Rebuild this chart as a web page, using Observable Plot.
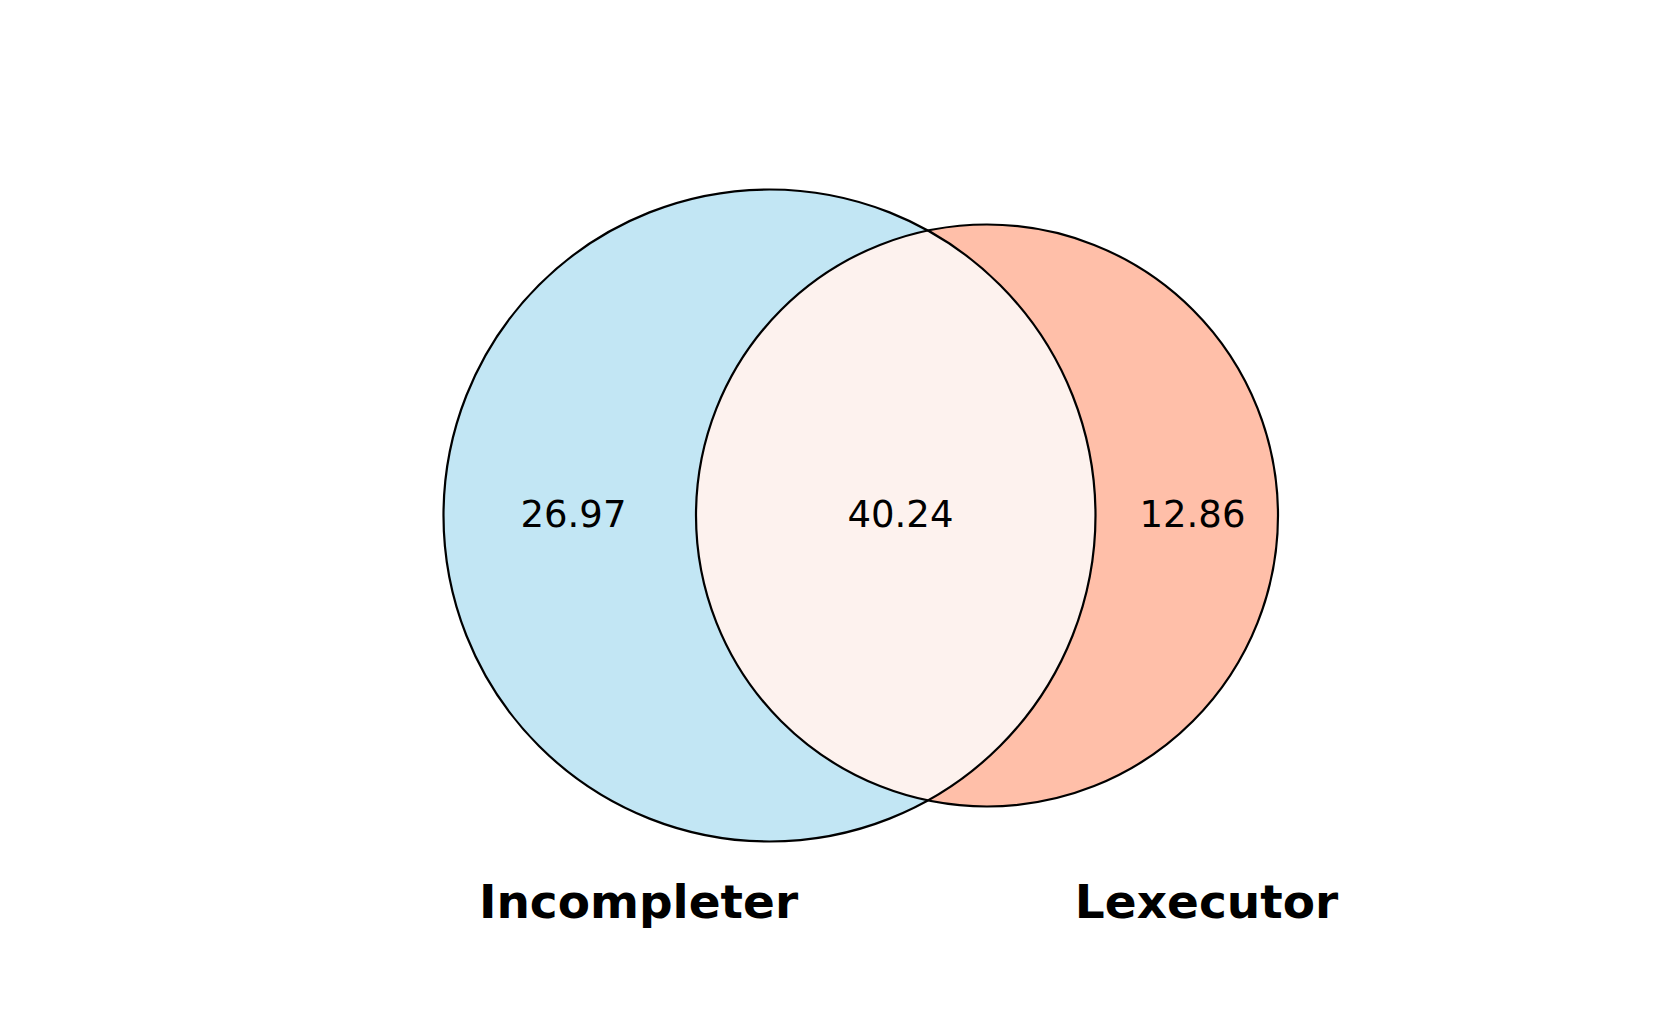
<!DOCTYPE html>
<html><head><meta charset="utf-8">
<script src="https://cdn.jsdelivr.net/npm/d3@7"></script>
<script src="https://cdn.jsdelivr.net/npm/@observablehq/plot@0.6"></script>
<style>body{margin:0;background:#fff}</style>
</head><body><div id="chart"></div>
<script>
const setNames = ["Incompleter", "Lexecutor"];
const regionValues = ["26.97", "40.24", "12.86"];
const circles = [
  {name: "Incompleter", cx: 769, cy: 515, r: 326, fill: "#c2e6f4"},
  {name: "Lexecutor", cx: 986.5, cy: 515, r: 291, fill: "#ffbfa9"}
];
const regionPos = [{x: 573, y: 515}, {x: 900, y: 515}, {x: 1192, y: 515}];
const labelPos = [{x: 638, y: 902}, {x: 1206, y: 902}];

// lens (intersection) outline from the two circles
const [A, B] = circles;
const d = B.cx - A.cx;
const a = (d*d + A.r*A.r - B.r*B.r) / (2*d);
const h = Math.sqrt(A.r*A.r - a*a);
const lens = [];
const tA = Math.atan2(h, a);
for (let i = 0; i <= 100; i++) { const t = -tA + 2*tA*i/100; lens.push({x: A.cx + A.r*Math.cos(t), y: A.cy + A.r*Math.sin(t)}); }
const tB = Math.atan2(h, a - d);
for (let i = 0; i <= 100; i++) { const t = tB + (2*Math.PI - 2*tB)*i/100; lens.push({x: B.cx + B.r*Math.cos(t), y: B.cy + B.r*Math.sin(t)}); }

const chart = Plot.plot({
  width: 1680, height: 1016, margin: 0,
  x: {domain: [0, 1680], range: [0, 1680], axis: null},
  y: {domain: [0, 1016], range: [0, 1016], axis: null},
  r: {type: "identity"},
  style: {fontFamily: "DejaVu Sans", background: "#fff"},
  marks: [
    Plot.dot(circles, {x: "cx", y: "cy", r: "r", fill: "fill", stroke: "none"}),
    Plot.line(lens, {x: "x", y: "y", fill: "#fdf2ee", stroke: "none", curve: "linear"}),
    Plot.dot(circles, {x: "cx", y: "cy", r: "r", fill: "none", stroke: "#000", strokeWidth: 2.2}),
    Plot.text(regionPos, {x: "x", y: "y", text: (d, i) => regionValues[i], fontSize: 37, fill: "#000"}),
    Plot.text(labelPos, {x: "x", y: "y", text: (d, i) => setNames[i], fontSize: 47, fontWeight: "bold", fill: "#000"})
  ]
});
document.getElementById("chart").append(chart);
</script></body></html>
